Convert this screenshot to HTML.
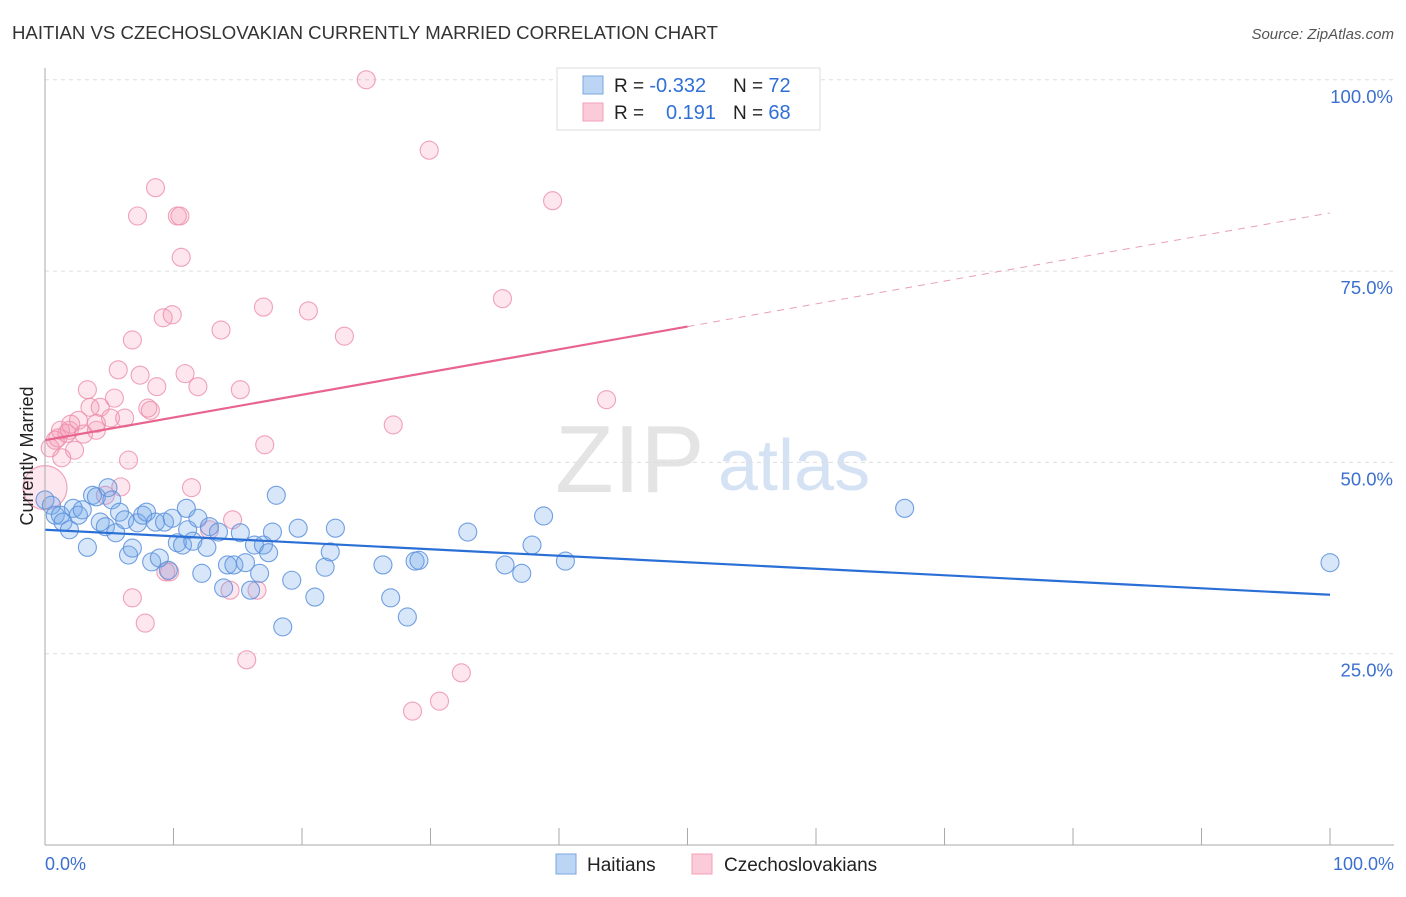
<!DOCTYPE html>
<html><head><meta charset="utf-8"><style>
body{margin:0;background:#fff;font-family:"Liberation Sans",sans-serif;}
svg text{font-family:"Liberation Sans",sans-serif;}
</style></head><body>
<svg id="chart" width="1406" height="892" xmlns="http://www.w3.org/2000/svg">
<text x="12" y="39" font-size="18.6" fill="#333">HAITIAN VS CZECHOSLOVAKIAN CURRENTLY MARRIED CORRELATION CHART</text>
<text x="1394" y="39" font-size="15" fill="#555" font-style="italic" text-anchor="end">Source: ZipAtlas.com</text>
<text x="555" y="492" font-size="96" fill="#e4e4e4" font-family="Liberation Serif">ZIP</text>
<text x="718" y="490" font-size="72" fill="#d4e2f4">atlas</text>
<g id="grid"></g><g id="pts"></g><g id="lines"></g>
<line x1="45" y1="68" x2="45" y2="845" stroke="#aaa"/>
<line x1="45" y1="845" x2="1394" y2="845" stroke="#aaa"/>
<text x="45" y="870" font-size="18" fill="#3b6fd0">0.0%</text>
<text x="1394" y="870" font-size="18" fill="#3b6fd0" text-anchor="end">100.0%</text>
<text transform="translate(33,456) rotate(-90)" font-size="18" fill="#222" text-anchor="middle">Currently Married</text>
<g>
<rect x="557" y="68" width="263" height="62" fill="#fff" stroke="#ddd"/>
<rect x="583" y="76" width="20" height="18" fill="#bcd5f5" stroke="#7aa7e0"/>
<rect x="583" y="103" width="20" height="18" fill="#fbcbd9" stroke="#f0a0b8"/>
<text x="614" y="92" font-size="19" fill="#222">R = <tspan fill="#2f6fd6" font-size="20">-0.332</tspan></text>
<text x="733" y="92" font-size="19" fill="#222">N = <tspan fill="#2f6fd6" font-size="20">72</tspan></text>
<text x="614" y="119" font-size="19" fill="#222">R = <tspan fill="#2f6fd6" x="666" font-size="20">0.191</tspan></text>
<text x="733" y="119" font-size="19" fill="#222">N = <tspan fill="#2f6fd6" font-size="20">68</tspan></text>
</g>
<g><rect x="556" y="854" width="20" height="20" fill="#bcd5f5" stroke="#7aa7e0"/><text x="587" y="871" font-size="19" fill="#222">Haitians</text></g>
<g><rect x="692" y="854" width="20" height="20" fill="#fbcbd9" stroke="#f0a0b8"/><text x="724" y="871" font-size="19" fill="#222">Czechoslovakians</text></g>
</svg>
<script>
const yTicks=[25,50,75,100];
const xTickVals=[0,10,20,30,40,50,60,70,80,90,100];
const blueX=[0,0.5,0.8,1.2,1.4,1.9,2.2,2.6,2.9,3.3,3.7,4.0,4.3,4.7,4.9,5.2,5.5,5.8,6.2,6.5,6.8,7.2,7.6,7.9,8.3,8.6,8.9,9.3,9.6,9.9,10.3,10.7,11.0,11.1,11.5,11.9,12.2,12.6,12.8,13.5,13.9,14.2,14.7,15.2,15.6,16.0,16.3,16.7,17.0,17.4,17.7,18.0,18.5,19.2,19.7,21.0,21.8,22.2,22.6,26.3,26.9,28.2,28.8,29.1,32.9,35.8,37.1,37.9,38.8,40.5,66.9,100];
const blueY=[45.1,44.4,43.1,43.1,42.2,41.2,44.0,43.1,43.8,38.9,45.7,45.5,42.2,41.6,46.7,45.1,40.8,43.5,42.5,37.9,38.8,42.1,43.1,43.5,37.0,42.2,37.5,42.2,35.9,42.7,39.5,39.2,44.0,41.2,39.7,42.7,35.5,38.9,41.6,40.9,33.6,36.6,36.6,40.8,36.9,33.3,39.2,35.5,39.2,38.2,40.9,45.7,28.5,34.6,41.4,32.4,36.3,38.3,41.4,36.6,32.3,29.8,37.1,37.2,40.9,36.6,35.5,39.2,43.0,37.1,44.0,36.9];
const pinkX=[0,0.4,0.8,1.0,1.3,1.7,1.9,2.3,2.6,3.0,3.3,3.5,4.0,4.3,4.7,5.1,5.4,5.7,5.9,6.2,6.5,6.8,6.8,7.2,7.4,7.8,8.0,8.2,8.6,8.7,9.2,9.4,9.7,9.9,10.3,10.5,10.6,10.9,11.4,11.9,12.8,13.7,14.4,14.6,15.2,15.7,16.5,17.0,17.1,20.5,23.3,25.0,27.1,28.6,29.9,30.7,32.4,35.6,39.5,43.7,1.2,2.0,4.0];
const pinkY=[46.7,51.9,52.9,53.2,50.6,53.8,54.2,51.6,55.5,53.7,59.5,57.2,54.2,57.2,45.7,55.8,58.4,62.1,46.8,55.8,50.3,66.0,32.3,82.2,61.4,29.0,57.1,56.8,85.9,59.9,68.9,35.7,35.7,69.3,82.2,82.2,76.8,61.6,46.7,59.9,41.2,67.3,33.3,42.5,59.5,24.2,33.3,70.3,52.3,69.8,66.5,100,54.9,17.5,90.8,18.8,22.5,71.4,84.2,58.2,54.2,55.0,55.1];
const blueTrend=[41.2,32.7];
const pinkTrend=[52.9,82.6];
const NS="http://www.w3.org/2000/svg";
const X=v=>45+v*12.85, Y=v=>845-v*7.652;
function mk(t,a,p){const e=document.createElementNS(NS,t);for(const k in a)e.setAttribute(k,a[k]);p.appendChild(e);return e;}
const grid=document.getElementById('grid');
yTicks.forEach(t=>{
 const l=mk('line',{x1:45,x2:1394,y1:Y(t),y2:Y(t),stroke:'#ddd','stroke-dasharray':'4,4'},grid);
 
 
 const tx=mk('text',{x:1393,y:Y(t)+23,'font-size':18.5,fill:'#3b6fd0','text-anchor':'end'},grid);
 tx.textContent=t.toFixed(1)+'%';
 
 
});
xTickVals.forEach(t=>{
 const l=mk('line',{x1:X(t),x2:X(t),y1:828,y2:845,stroke:'#aaa'},grid);
 
 
});
const pts=document.getElementById('pts');
pinkX.forEach((x,i)=>{
 const c=mk('circle',{cx:X(x),cy:Y(pinkY[i]),r:i===0?22:9,fill:'rgba(245,150,180,0.24)',stroke:'rgba(236,140,170,0.8)','stroke-width':1.1},pts);
 
 
});
blueX.forEach((x,i)=>{
 const c=mk('circle',{cx:X(x),cy:Y(blueY[i]),r:9,fill:'rgba(110,165,235,0.28)',stroke:'rgba(90,145,220,0.85)','stroke-width':1.1},pts);
 
 
});
const lines=document.getElementById('lines');
const pv=x=>pinkTrend[0]+(pinkTrend[1]-pinkTrend[0])*x/100;
let l1=mk('line',{x1:X(0),y1:Y(blueTrend[0]),x2:X(100),y2:Y(blueTrend[1]),stroke:'#2a6fd6','stroke-width':2.2},lines);


let l2=mk('line',{x1:X(0),y1:Y(pv(0)),x2:X(50),y2:Y(pv(50)),stroke:'#e8648e','stroke-width':2.2},lines);


let l3=mk('line',{x1:X(50),y1:Y(pv(50)),x2:X(100),y2:Y(pv(100)),stroke:'#e8a0b4','stroke-width':1,'stroke-dasharray':'7,6'},lines);


</script>
</body></html>
